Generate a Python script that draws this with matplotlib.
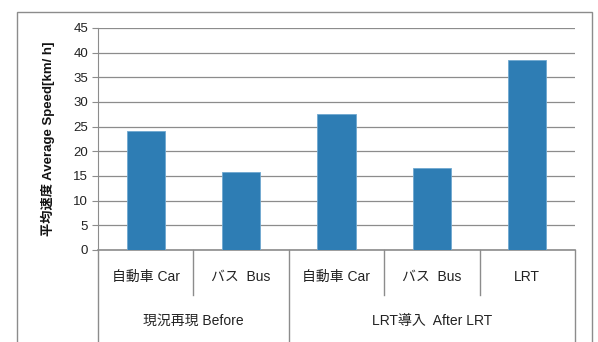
import matplotlib
matplotlib.use('Agg')
import matplotlib.pyplot as plt
from matplotlib.transforms import blended_transform_factory

plt.rcParams['font.family'] = ['Liberation Sans', 'Noto Sans CJK JP', 'DejaVu Sans']

# Average speed by mode, before and after LRT introduction
categories = ['自動車 Car', 'バス  Bus', '自動車 Car', 'バス  Bus', 'LRT']
groups = ['現況再現 Before', 'LRT導入  After LRT']
group_sizes = [2, 3]
speeds = [24.1, 15.9, 27.6, 16.7, 38.6]
yticks = list(range(0, 50, 5))

W, H = 598, 342
fig = plt.figure(figsize=(W / 100, H / 100), dpi=100)

# outer chart border
border = plt.Rectangle((17 / W, -0.02), (592 - 17) / W, 1 - 12 / H + 0.02,
                       transform=fig.transFigure, fill=False,
                       edgecolor='#8c8c8c', linewidth=1)
fig.patches.append(border)

ax = fig.add_axes([98 / W, (H - 250) / H, (575 - 98) / W, 222 / H])
x = range(len(speeds))
ax.bar(x, speeds, width=0.4, color='#2e7db4', edgecolor='#6fa8d0',
       linewidth=0.6, zorder=3)
ax.set_xlim(-0.5, len(speeds) - 0.5)
ax.set_ylim(0, 45)
ax.set_yticks(yticks)
ax.tick_params(axis='y', labelsize=9.5, length=4, color='#8c8c8c',
               labelcolor='#222222', pad=3)
ax.set_xticks([])
ax.yaxis.grid(True, color='#8c8c8c', linewidth=0.9, zorder=0)
for s in ['top', 'right']:
    ax.spines[s].set_visible(False)
ax.spines['left'].set_color('#8c8c8c')
ax.spines['bottom'].set_color('#8c8c8c')
ax.spines['bottom'].set_linewidth(1.2)
ax.set_ylabel('平均速度 Average Speed[km/ h]', fontsize=9.5, fontweight='bold',
              color='#111111')
ax.yaxis.set_label_coords(-0.09, 0.5)

# two-level category axis below the plot
tr = blended_transform_factory(ax.transData, ax.transAxes)
px = 1 / 222
short_y = -45 * px
long_y = -95 * px
bounds = [-0.5]
for n in group_sizes:
    bounds.append(bounds[-1] + n)
for i in range(len(speeds) + 1):
    xb = i - 0.5
    ybot = long_y if xb in bounds else short_y
    ax.plot([xb, xb], [0, ybot], transform=tr, color='#8c8c8c',
            linewidth=1, clip_on=False)
for i, lab in enumerate(categories):
    ax.text(i, -27 * px, lab, transform=tr, ha='center', va='center',
            fontsize=10, color='#222222')
for g, lab in enumerate(groups):
    mid = (bounds[g] + bounds[g + 1]) / 2
    ax.text(mid, -71 * px, lab, transform=tr, ha='center', va='center',
            fontsize=10, color='#222222')

fig.savefig('out.png', dpi=100)
